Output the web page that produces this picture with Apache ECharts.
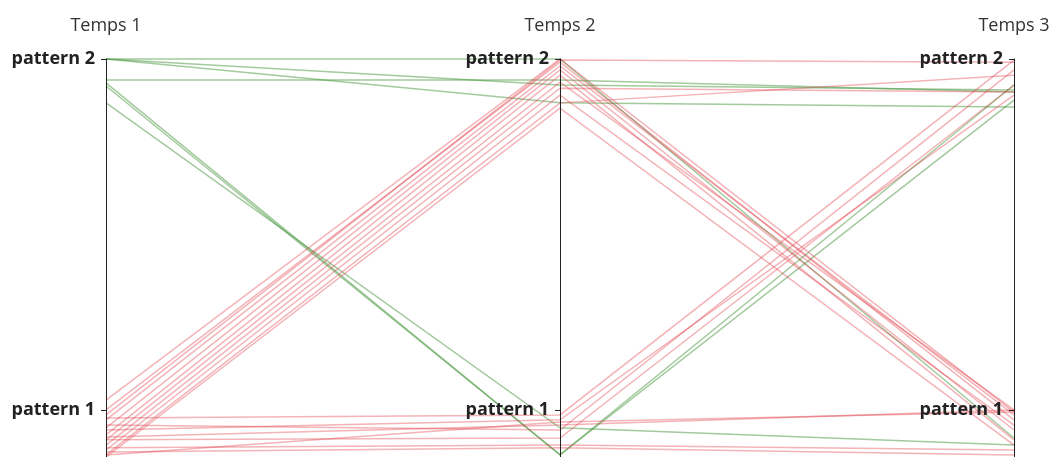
<!DOCTYPE html>
<html>
<head>
  <meta charset="utf-8" />
  <title>Temps</title>
  <style>
    html, body { margin: 0; padding: 0; background: #fff; }
  </style>
</head>
<body>
  <div id="main" style="width: 1057px; height: 457px"></div>
  <script src="https://cdn.jsdelivr.net/npm/echarts@6/dist/echarts.min.js"></script>
  <script>
    // pattern 1 = 1, pattern 2 = 2 (valeurs légèrement dispersées autour)
    let axisNames = ["Temps 1", "Temps 2", "Temps 3"];
    let tickLabels = ["pattern 1", "pattern 2"];

    let greenLines = [
      [2.000, 2.000, 0.920],
      [2.000, 1.926, 1.912],
      [2.000, 1.875, 1.863],
      [1.940, 1.940, 1.906],
      [1.932, 0.872, 1.883],
      [1.923, 0.872, 1.926],
      [1.875, 0.949, 0.900],
    ];

    let redLines = [
      [1.028, 2.000, 0.994],
      [1.000, 1.991, 0.972],
      [0.972, 1.980, 0.986],
      [0.949, 1.969, 0.943],
      [0.929, 1.954, 0.915],
      [0.915, 1.934, 1.000],
      [0.900, 1.917, 1.906],
      [0.886, 1.897, 0.957],
      [0.872, 1.875, 1.954],
      [0.866, 1.860, 0.900],
      [0.977, 0.986, 1.997],
      [0.957, 0.943, 1.969],
      [0.923, 0.957, 1.000],
      [0.915, 0.920, 1.926],
      [0.892, 0.900, 0.886],
      [0.872, 0.966, 0.994],
      [0.880, 0.892, 0.872],
      [0.943, 0.972, 1.897],
      [0.986, 1.997, 1.991],
    ];

    let chart = echarts.init(document.getElementById("main"));

    let axes = axisNames.map(function (name, i) {
      return {
        dim: i,
        name: name,
        type: "value",
        min: 0.866,
        max: 2,
        nameLocation: "end",
        nameGap: 24,
        nameTextStyle: {
          fontFamily: "Open Sans",
          fontSize: 18,
          color: "#333",
        },
        axisLine: { lineStyle: { color: "#222", width: 1 } },
        axisTick: {
          customValues: [1, 2],
          length: -5, // vers la gauche
          lineStyle: { color: "#222" },
        },
        axisLabel: {
          customValues: [1, 2],
          align: "right",
          margin: -11,
          fontFamily: "Open Sans",
          fontWeight: "bold",
          fontSize: 18,
          color: "#222",
          formatter: function (v) {
            return tickLabels[Math.round(v) - 1];
          },
        },
        splitLine: { show: false },
      };
    });

    let option = {
      animation: false,
      parallel: {
        left: 106,
        right: 43,
        top: 59,
        bottom: 0,
      },
      parallelAxis: axes,
      series: [
        {
          name: "vert",
          type: "parallel",
          silent: true,
          lineStyle: { color: "rgb(70,150,60)", width: 1.5, opacity: 0.5 },
          data: greenLines,
        },
        {
          name: "rouge",
          type: "parallel",
          silent: true,
          lineStyle: { color: "rgb(225,65,75)", width: 1.5, opacity: 0.4 },
          data: redLines,
        },
      ],
    };

    chart.setOption(option);
  </script>
</body>
</html>
